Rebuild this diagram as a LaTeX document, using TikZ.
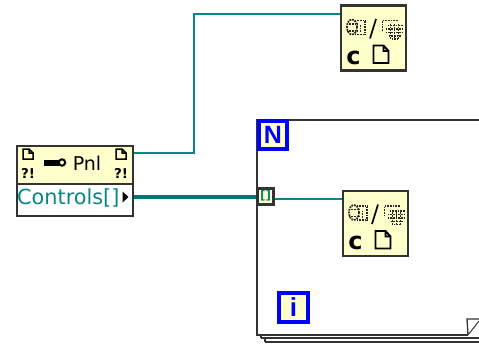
\documentclass[tikz,border=0pt]{standalone}
\usepackage{fontspec}
\setmainfont{DejaVu Sans}
\newfontfamily\lvhead{Liberation Sans}
\definecolor{wire}{HTML}{0A8585}
\definecolor{wiredark}{HTML}{007575}
\definecolor{lvyellow}{HTML}{FFFFCC}
\definecolor{edge}{HTML}{333333}
\definecolor{lvblue}{HTML}{0000FF}
\tikzset{
  wirethin/.style={wire,line width=1.7pt},
  wirethick/.style={wiredark,line width=4pt},
  iconbox/.style={draw=edge,fill=lvyellow,line width=2.2pt,minimum width=65pt,minimum height=65pt,inner sep=0pt},
  loopbox/.style={draw=lvblue,fill=lvyellow,line width=4pt,minimum width=28.5pt,minimum height=28.5pt,inner sep=0pt,text=lvblue},
  dots/.style={black!85,line width=1.7pt,dash pattern=on 1.7pt off 1pt},
  pageline/.style={black,line width=1.5pt},
  smallbang/.style={inner sep=0pt,font=\fontsize{13.5}{14}\selectfont\bfseries,text=black},
}
\newcommand{\typecast}[2]{%
  \begin{scope}[shift={(#1,#2)}]
    \draw[dots] (-21.5,-11) ellipse (5 and 7.5);
    \draw[dots] (-27,-14) -- (-16,-14) (-27,-7) -- (-16,-7);
    \draw[dots] (-19,-3.5) -- (-8,-3.5) (-19,-17.5) -- (-8,-17.5);
    \draw[dots] (-8.5,-17) -- (-8.5,-3);
    \draw[dots] (-13,-13) -- (-13,-6);
    \draw[black,line width=1.7pt] (2.5,-19) -- (-3.5,0.5);
    \draw[dots] (9,-17) -- (9,-7) (9,-17.5) -- (25,-17.5);
    \draw[dots] (12,-9) -- (29,-9) (14,-12.5) -- (29,-12.5) (12,-5.5) -- (29,-5.5) (15,-2) -- (27,-2) (18,1) -- (24,1);
    \draw[dots] (17,-14) -- (17,1) (21,-14) -- (21,2) (25,-14) -- (25,1);
    \node[inner sep=0pt,font=\fontsize{24}{24}\selectfont\bfseries,text=black] at (-20,19.5) {c};
    \draw[black,line width=1.9pt] (0,7.5) -- (0,25) -- (15,25) -- (15,13) -- (10,7.5) -- cycle (10,7.5) -- (10,13) -- (15,13);
  \end{scope}}
\begin{document}
\begin{tikzpicture}[x=1pt,y=-1pt]
\useasboundingbox (0,0) rectangle (479,345);
% for-loop frame
\coordinate (sa) at (479,338);
\coordinate (sb) at (261,338);
\coordinate (sc) at (479,342);
\coordinate (sd) at (265,342);
\draw[edge,line width=1.6pt] (sb) -- (sa);
\draw[edge,line width=1.6pt] (sd) -- (sc);
\draw[edge,line width=1.3pt] (261,335) -- (sb);
\draw[edge,line width=1.3pt] (265,338) -- (sd);
\draw[draw=edge,fill=white,line width=1.9pt] (479,120) -- (257,120) -- (257,335) -- (468,335);
\draw[edge,line width=1.3pt] (468,335) -- (467,319) -- (479,319);
\draw[edge,line width=1pt] (468,335) -- (479,321);
% panel node
\node[draw=edge,fill=lvyellow,line width=2.2pt,minimum width=116pt,minimum height=38pt,inner sep=0pt,anchor=north west] (pnl) at (15.5,144.5) {};
\node[draw=edge,fill=white,line width=2.2pt,minimum width=116pt,minimum height=32pt,inner sep=0pt,anchor=north west] (ctl) at (15.5,182.5) {};
\node[inner sep=0pt,font=\fontsize{19}{19}\selectfont] (pnltext) at (87,163) {Pnl};
\node[inner sep=0pt,font=\fontsize{20.8}{21}\selectfont,text=wire,anchor=west] (ctltext) at (17,198) {Controls[]};
\fill[black] (122.5,191.5) -- (128.5,197) -- (122.5,202.5) -- cycle;
\fill[black] (44,159.5) rectangle (59,165.5);
\draw[black,line width=2pt] (62,162.5) circle (3.2);
\draw[pageline] (23,159) -- (23,149) -- (29,149) -- (33,153) -- (33,159) -- cycle (29,149) -- (29,153) -- (33,153);
\draw[pageline] (116,159) -- (116,149) -- (122,149) -- (126,153) -- (126,159) -- cycle (122,149) -- (122,153) -- (126,153);
\node[smallbang] (bangl) at (28,173.5) {?!};
\node[smallbang] (bangr) at (121,173.5) {?!};
% typecast icons
\node[iconbox] (icona) at (373.5,38) {};
\node[iconbox] (iconb) at (375.5,223.5) {};
\typecast{373.5}{38}
\typecast{375.5}{223.5}
% loop terminals
\node[loopbox,font=\lvhead\fontsize{25}{25}\selectfont\bfseries] (nbox) at (273,135) {N};
\node[loopbox,font=\lvhead\fontsize{26}{26}\selectfont\bfseries] (ibox) at (293.5,307.5) {i};
% tunnel
\node[draw=edge,fill=lvyellow,line width=2.2pt,minimum width=16pt,minimum height=16pt,inner sep=0pt] (tun) at (265.5,196.5) {};
\node[inner sep=0pt,font=\fontsize{12}{12}\selectfont\bfseries,text=wire] (tuntext) at (265.5,196) {[]};
% wires
\coordinate (bendb) at (194,153);
\coordinate (benda) at (194,14);
\draw[wirethin] (pnl.east |- bendb) -- (bendb) -- (benda) -- (icona.west |- benda);
\draw[wirethick] (ctl.east |- tun) -- (tun.west);
\coordinate (wireb) at (iconb.west |- 0,199);
\draw[wirethin] (tun.east |- wireb) -- (wireb);
\end{tikzpicture}
\end{document}
